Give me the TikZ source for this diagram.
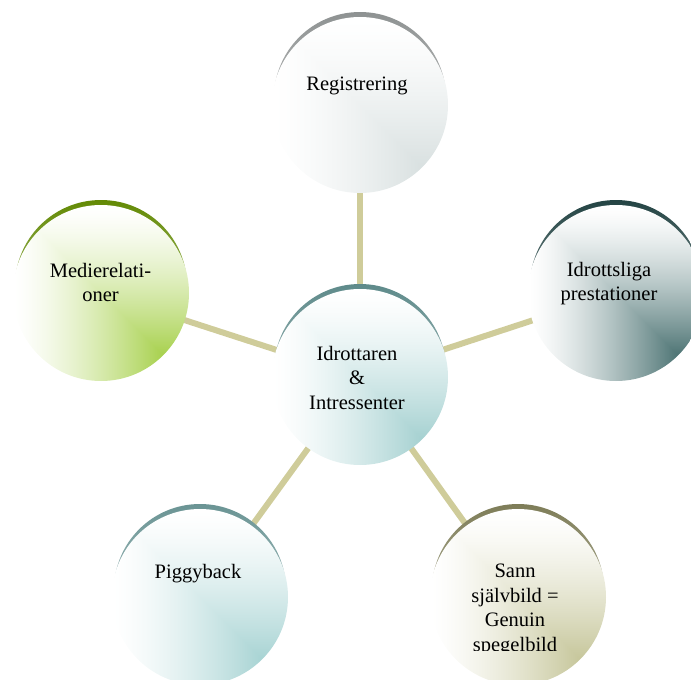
\documentclass[tikz,border=0pt]{standalone}
\usepackage{fontspec}
\setmainfont{Liberation Serif}

% Corner gradient: white in the upper left, full colour towards the lower right.
% Arguments: name, then 1-r, 1-g, 1-b of the deep colour.
\newcommand\declarebubble[4]{%
  \pgfdeclarefunctionalshading{#1}{\pgfpoint{-50bp}{-50bp}}{\pgfpoint{50bp}{50bp}}{}{%
    25 add 50 div 1 exch sub
    exch 25 add 50 div
    2 copy gt {exch} if pop
    0.85 div dup 0 lt {pop 0} if dup 1 gt {pop 1} if
    1.4 exp
    dup #2 mul 1 exch sub
    exch dup #3 mul 1 exch sub
    exch #4 mul 1 exch sub
  }}

\declarebubble{shReg}{0.15}{0.12}{0.12}
\declarebubble{shHub}{0.35}{0.18}{0.18}
\declarebubble{shMed}{0.34}{0.18}{0.69}
\declarebubble{shIdr}{0.69}{0.54}{0.54}
\declarebubble{shPig}{0.34}{0.17}{0.17}
\declarebubble{shSann}{0.22}{0.22}{0.39}

\definecolor{linkc}{HTML}{CFCC9A}
\definecolor{rimReg}{HTML}{8E9292}
\definecolor{rimHub}{HTML}{5E8A8A}
\definecolor{rimMed}{HTML}{638A05}
\definecolor{rimIdr}{HTML}{244444}
\definecolor{rimPig}{HTML}{6A9494}
\definecolor{rimSann}{HTML}{7E7D58}

\pgfdeclarelayer{links}
\pgfsetlayers{links,main}

\begin{document}
\begin{tikzpicture}[x=1pt,y=-1pt,
  bubble/.style={circle, minimum size=176pt, inner sep=0pt, shade, shading=#1},
  rim/.style={top color=#1, bottom color=#1!35!white},
  link/.style={draw=linkc, line width=6pt},
  btext/.style={font=\fontsize{20.5}{24.5}\selectfont, align=center,
                anchor=north, inner sep=0pt, text=black}]
\useasboundingbox (0,0) rectangle (691,680);

% rims peeking out above each bubble
\shade[rim=rimReg]  (360,98)  circle (86pt);
\shade[rim=rimHub]  (360,370) circle (86pt);
\shade[rim=rimMed]  (101,286) circle (86pt);
\shade[rim=rimIdr]  (616,286) circle (86pt);
\shade[rim=rimPig]  (200,590) circle (86pt);
\shade[rim=rimSann] (518,590) circle (86pt);

% bubbles
\node[bubble=shReg]  (reg)  at (360,105) {};
\node[bubble=shHub]  (hub)  at (360,377) {};
\node[bubble=shMed]  (med)  at (101,293) {};
\node[bubble=shIdr]  (idr)  at (616,293) {};
\node[bubble=shPig]  (pig)  at (200,597) {};
\node[bubble=shSann] (sann) at (518,597) {};

% spokes from the hub
\begin{pgfonlayer}{links}
  \draw[link] (hub.center) -- (reg.center);
  \draw[link] (hub.center) -- (med.center);
  \draw[link] (hub.center) -- (idr.center);
  \draw[link] (hub.center) -- (pig.center);
  \draw[link] (hub.center) -- (sann.center);
\end{pgfonlayer}

% texts
\node[btext] (treg) at (357,77)  {Registrering};
\node[btext] (thub) at (357,346) {Idrottaren\\\&\\Intressenter};
\node[btext] (tmed) at (100.5,263) {Medierelati-\\oner};
\node[btext] (tidr) at (609,262) {Idrottsliga\\prestationer};
\node[btext] (tpig) at (198,564) {Piggyback};
\begin{scope}
  \clip (0,0) rectangle (691,650.5);
  \node[btext] (tsann) at (515,564) {Sann\\självbild =\\Genuin\\spegelbild};
\end{scope}
\end{tikzpicture}
\end{document}
